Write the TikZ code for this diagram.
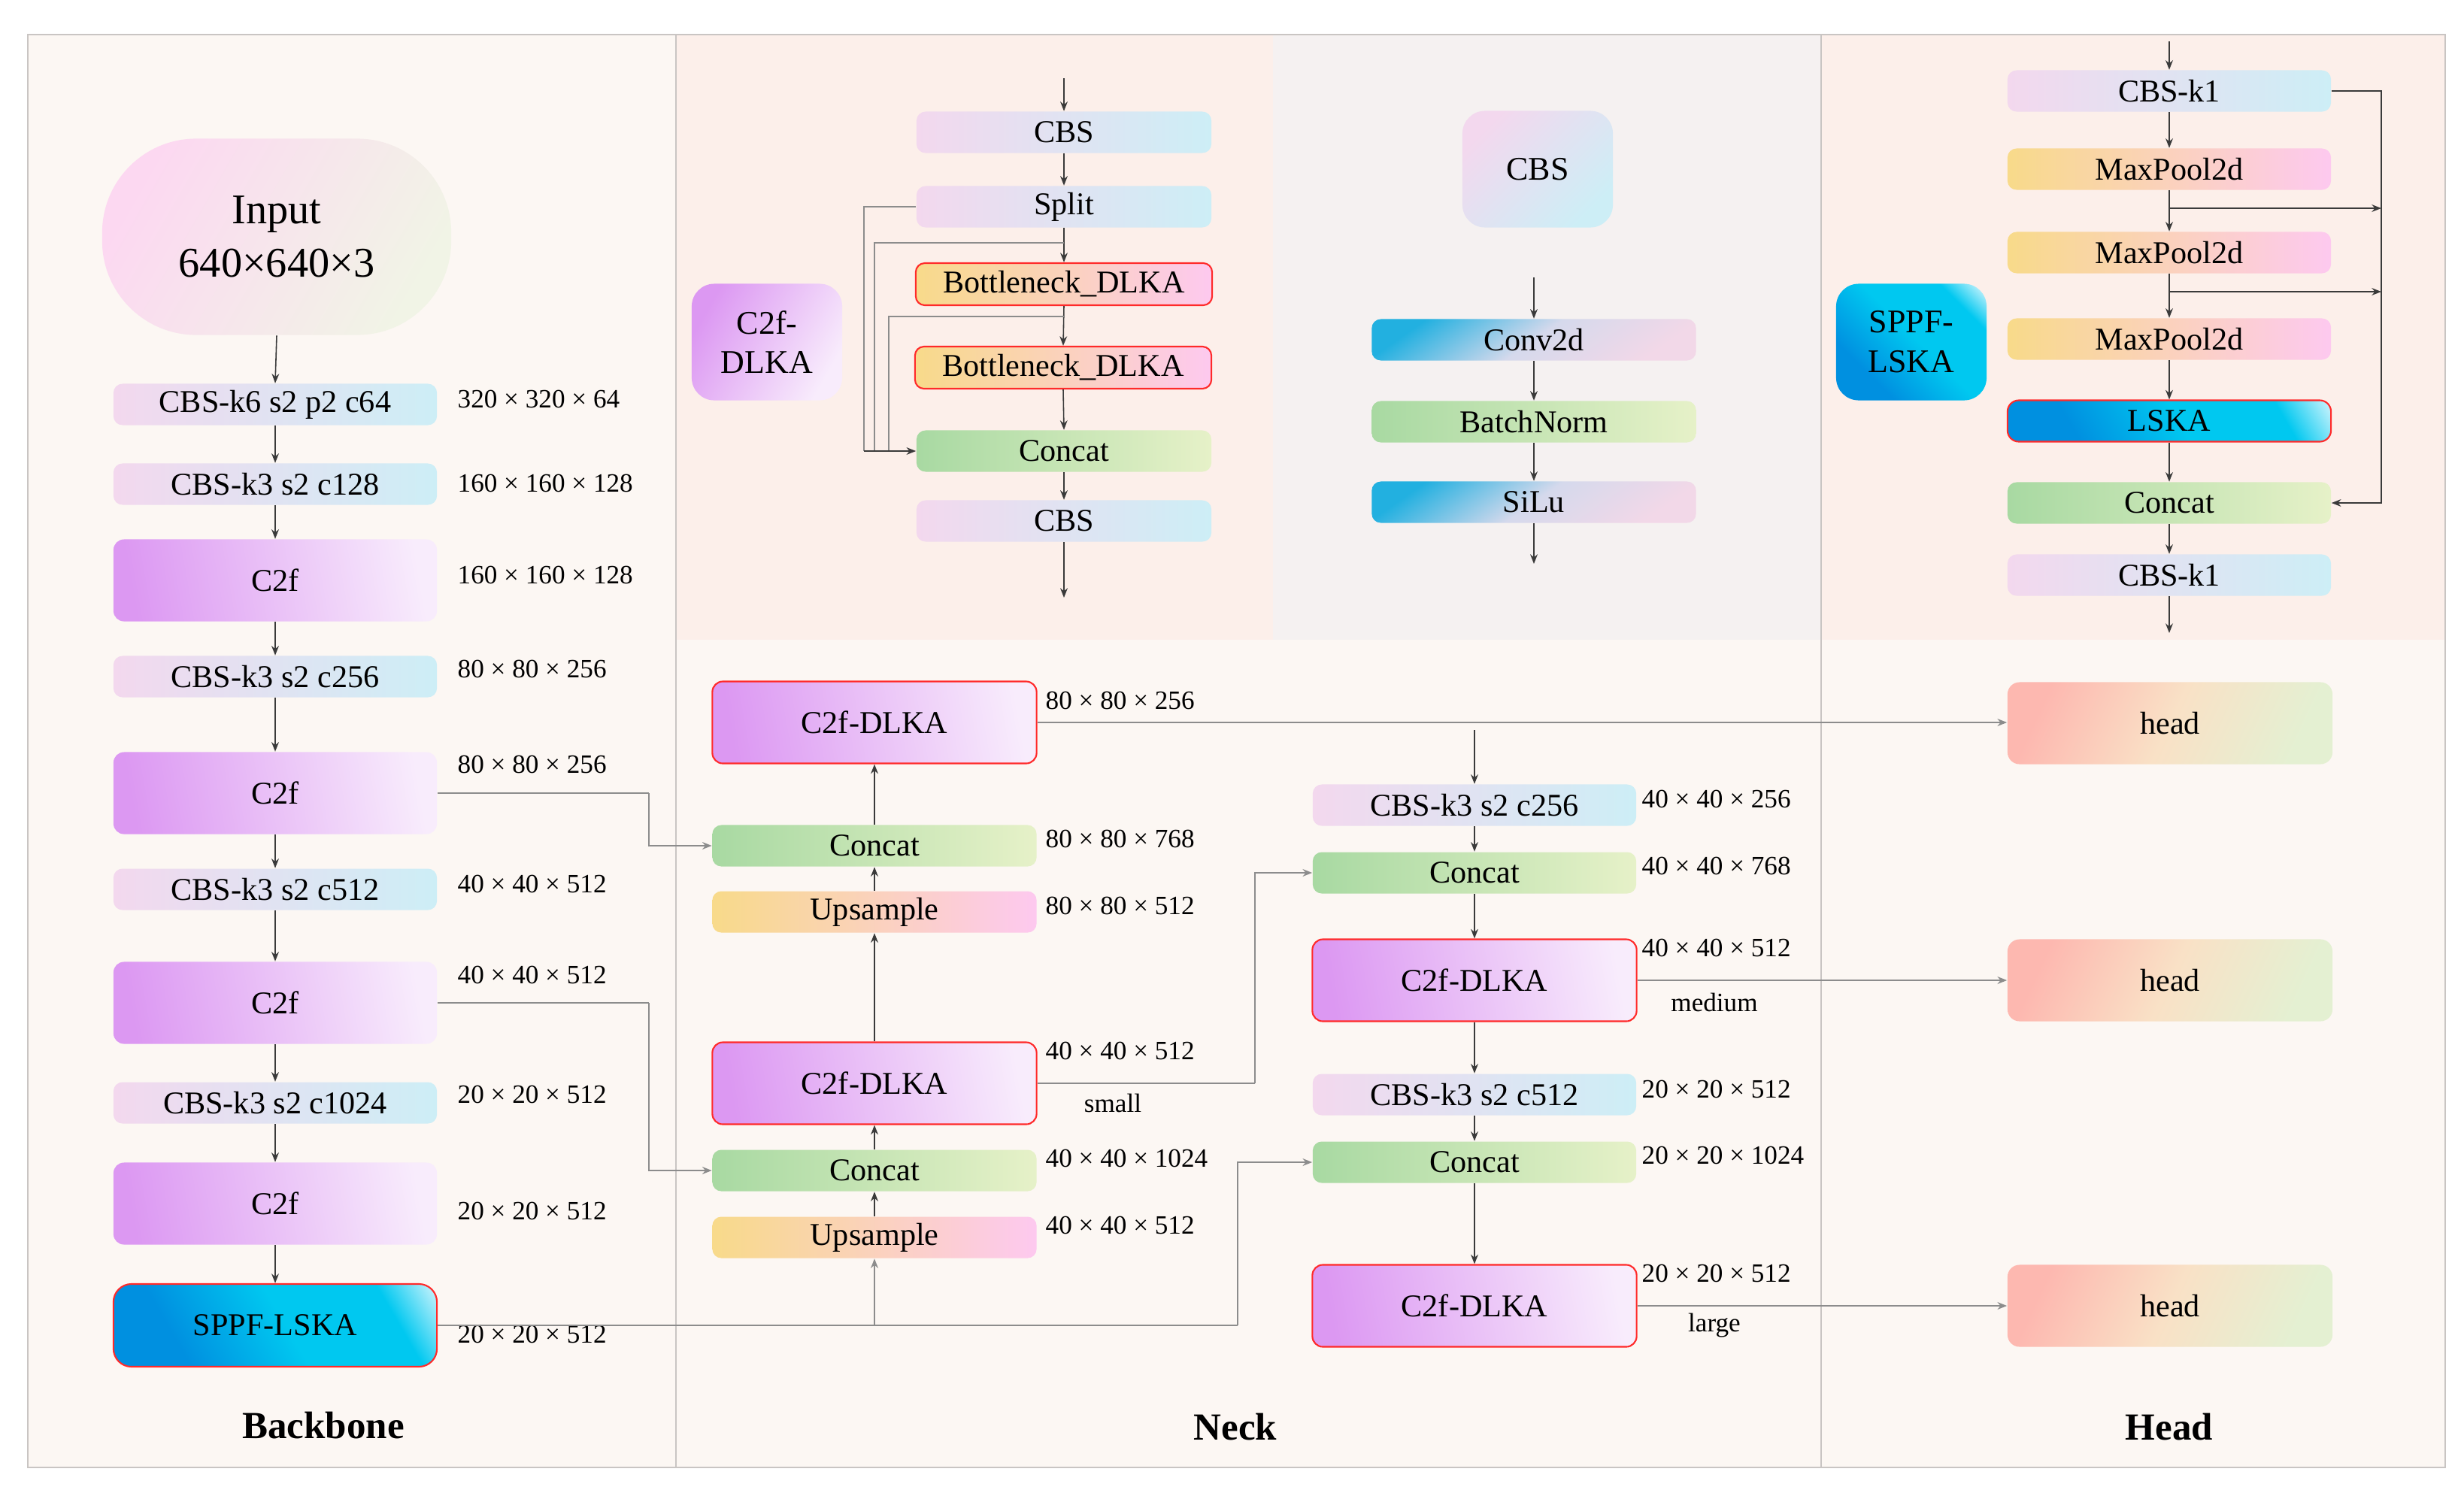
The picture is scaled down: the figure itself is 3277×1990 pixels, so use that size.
\documentclass[tikz,border=0pt]{standalone}
\usepackage{fontspec}
\setmainfont{Liberation Serif}
\usetikzlibrary{arrows.meta,calc}
\definecolor{bgA}{HTML}{FCF7F3}
\definecolor{bgB}{HTML}{FCEFEA}
\definecolor{bgC}{HTML}{F5F1F1}
\definecolor{framec}{HTML}{C9C5C3}
\definecolor{conngray}{HTML}{8C8C8C}
\definecolor{arrgray}{HTML}{3A3A3A}
\definecolor{redb}{HTML}{FF2A2A}
\definecolor{cbsL}{HTML}{F3D8EE}
\definecolor{cbsR}{HTML}{CDEEF6}
\definecolor{c2fL}{HTML}{DC98F2}
\definecolor{c2fR}{HTML}{F8ECFC}
\definecolor{catL}{HTML}{A8D9A2}
\definecolor{catR}{HTML}{E6F1C8}
\definecolor{upL}{HTML}{F8DA8A}
\definecolor{upR}{HTML}{FDC9EF}
\definecolor{headL}{HTML}{FDB8B0}
\definecolor{headM}{HTML}{F9E1C6}
\definecolor{headR}{HTML}{E4F0D2}
\definecolor{inL}{HTML}{FCD8F1}
\definecolor{inR}{HTML}{F1F4E6}
\definecolor{blueD}{HTML}{0090E0}
\definecolor{blueM}{HTML}{00C8F0}
\definecolor{blueW}{HTML}{F2FCFF}
\definecolor{convL}{HTML}{22B0E0}
\definecolor{convM}{HTML}{D5D9EC}
\definecolor{convR}{HTML}{F2D8E8}
\pgfdeclarehorizontalshading{lskashade}{100bp}{color(0bp)=(blueD); color(30bp)=(blueD); color(52bp)=(blueM); color(73bp)=(blueM); color(86bp)=(blueW); color(100bp)=(blueW)}
\begin{document}
\begin{tikzpicture}[x=0.01cm,y=-0.01cm,
  box/.style={rounded corners=0.12cm, minimum width=4.3cm, minimum height=0.55cm, inner sep=0pt, font=\fontsize{12}{14}\selectfont, text=black},
  cbsbox/.style={box, left color=cbsL, right color=cbsR},
  catbox/.style={box, left color=catL, right color=catR},
  upbox/.style={box, left color=upL, right color=upR},
  c2fbox/.style={box, minimum height=1.09cm, rounded corners=0.14cm, left color=c2fL, right color=c2fR, shading angle=100},
  dlkabox/.style={c2fbox, minimum width=4.31cm, draw=redb, line width=0.6pt},
  sppfbox/.style={box, minimum height=1.1cm, rounded corners=0.24cm, shading=lskashade, shading angle=30, draw=redb, line width=0.6pt},
  lskabox/.style={box, rounded corners=0.15cm, shading=lskashade, shading angle=30, draw=redb, line width=0.6pt},
  bottlebox/.style={box, minimum width=3.94cm, minimum height=0.56cm, left color=upL, right color=upR, draw=redb, line width=0.6pt},
  headbox/.style={box, minimum width=4.32cm, minimum height=1.09cm, rounded corners=0.16cm, left color=headL, right color=headR, middle color=headM, shading angle=65},
  convbox/.style={box, minimum width=4.31cm, left color=convL, right color=convR, middle color=convM, shading angle=35},
  inputbox/.style={minimum width=4.64cm, minimum height=2.61cm, rounded corners=1.25cm, inner sep=0pt, align=center, font=\fontsize{16}{20}\selectfont, left color=inL, right color=inR, shading angle=60},
  labelbox/.style={minimum width=2.0cm, minimum height=1.55cm, rounded corners=0.3cm, inner sep=0pt, align=center, font=\fontsize{12.5}{15}\selectfont},
  dim/.style={anchor=west, inner sep=0pt, font=\fontsize{10}{12}\selectfont},
  sizeword/.style={inner sep=0pt, font=\fontsize{10}{12}\selectfont},
  title/.style={inner sep=0pt, font=\fontsize{14.5}{17}\selectfont\bfseries},
  arr/.style={draw=arrgray, line width=0.45pt, -{Stealth[length=3.6pt,width=2.8pt]}},
  conn/.style={draw=conngray, line width=0.6pt},
  connarr/.style={conn, -{Stealth[length=3.6pt,width=2.8pt]}}
]
\useasboundingbox (0,0) rectangle (3277,1990);
\fill[white] (0,0) rectangle (3277,1990);
% panels
\fill[bgA] (37,46) rectangle (3252,1952);
\fill[bgB] (899,46) rectangle (1693,851);
\fill[bgC] (1693,46) rectangle (2422,851);
\fill[bgB] (2422,46) rectangle (3252,851);
\draw[framec, line width=0.6pt] (37,46) rectangle (3252,1952);
\draw[framec, line width=0.6pt] (899,46) -- (899,1952);
\draw[framec, line width=0.6pt] (2422,46) -- (2422,1952);

% ---------------- Backbone
\node[inputbox] (in) at (368,315) {Input\\640×640×3};
\node[cbsbox] (b1) at (366,538) {CBS-k6 s2 p2 c64};
\node[cbsbox] (b2) at (366,644) {CBS-k3 s2 c128};
\node[c2fbox] (b3) at (366,772) {C2f};
\node[cbsbox] (b4) at (366,900) {CBS-k3 s2 c256};
\node[c2fbox] (b5) at (366,1055) {C2f};
\node[cbsbox] (b6) at (366,1183) {CBS-k3 s2 c512};
\node[c2fbox] (b7) at (366,1334) {C2f};
\node[cbsbox] (b8) at (366,1467) {CBS-k3 s2 c1024};
\node[c2fbox] (b9) at (366,1601) {C2f};
\node[sppfbox] (b10) at (366,1763) {SPPF-LSKA};
\foreach \a/\b in {in/b1,b1/b2,b2/b3,b3/b4,b4/b5,b5/b6,b6/b7,b7/b8,b8/b9,b9/b10}
  \draw[arr] (\a.south) -- (\b.north);

\node[dim] (bd1) at (608,531) {320 × 320 × 64};
\node[dim] (bd2) at (608,643) {160 × 160 × 128};
\node[dim] (bd3) at (608,765) {160 × 160 × 128};
\node[dim] (bd4) at (608,890) {80 × 80 × 256};
\node[dim] (bd5) at (608,1017) {80 × 80 × 256};
\node[dim] (bd6) at (608,1176) {40 × 40 × 512};
\node[dim] (bd7) at (608,1297) {40 × 40 × 512};
\node[dim] (bd8) at (608,1456) {20 × 20 × 512};
\node[dim] (bd9) at (608,1611) {20 × 20 × 512};
\node[dim] (bd10) at (608,1775) {20 × 20 × 512};
\node[title] (tb) at (430,1896) {Backbone};

% ---------------- Neck left column
\node[dlkabox] (n1) at (1163,961) {C2f-DLKA};
\node[catbox, minimum width=4.31cm] (n2) at (1163,1125) {Concat};
\node[upbox, minimum width=4.31cm] (n3) at (1163,1213) {Upsample};
\node[dlkabox] (n4) at (1163,1441) {C2f-DLKA};
\node[catbox, minimum width=4.31cm] (n5) at (1163,1557) {Concat};
\node[upbox, minimum width=4.31cm] (n6) at (1163,1646) {Upsample};
\foreach \a/\b in {n6/n5,n5/n4,n4/n3,n3/n2,n2/n1}
  \draw[arr] (\a.north) -- (\b.south);

\node[dim] (nd1) at (1390,932) {80 × 80 × 256};
\node[dim] (nd2) at (1390,1116) {80 × 80 × 768};
\node[dim] (nd3) at (1390,1205) {80 × 80 × 512};
\node[dim] (nd4) at (1390,1398) {40 × 40 × 512};
\node[sizeword] (nsmall) at (1480,1467) {small};
\node[dim] (nd5) at (1390,1541) {40 × 40 × 1024};
\node[dim] (nd6) at (1390,1630) {40 × 40 × 512};

% ---------------- Neck right column
\node[cbsbox] (r1) at (1961,1071) {CBS-k3 s2 c256};
\node[catbox] (r2) at (1961,1161) {Concat};
\node[dlkabox] (r3) at (1961,1304) {C2f-DLKA};
\node[cbsbox] (r4) at (1961,1456) {CBS-k3 s2 c512};
\node[catbox] (r5) at (1961,1546) {Concat};
\node[dlkabox] (r6) at (1961,1737) {C2f-DLKA};
\foreach \a/\b in {r1/r2,r2/r3,r3/r4,r4/r5,r5/r6}
  \draw[arr] (\a.south) -- (\b.north);

\node[dim] (rd1) at (2183,1063) {40 × 40 × 256};
\node[dim] (rd2) at (2183,1152) {40 × 40 × 768};
\node[dim] (rd3) at (2183,1261) {40 × 40 × 512};
\node[sizeword] (rmed) at (2280,1333) {medium};
\node[dim] (rd4) at (2183,1449) {20 × 20 × 512};
\node[dim] (rd5) at (2183,1537) {20 × 20 × 1024};
\node[dim] (rd6) at (2183,1694) {20 × 20 × 512};
\node[sizeword] (rlarge) at (2280,1763) {large};
\node[title] (tn) at (1643,1898) {Neck};

% ---------------- Head
\node[headbox] (h1) at (2886,962) {head};
\node[headbox] (h2) at (2886,1304) {head};
\node[headbox] (h3) at (2886,1737) {head};
\node[title] (th) at (2885,1898) {Head};

% ---------------- connectors
\coordinate (j1) at (863,1055);
\coordinate (j2) at (863,1334);
\coordinate (j3) at (1646,1763);
\coordinate (j4) at (1669,1441);
\draw[conn] (b5.east) -- (j1);
\draw[connarr] (j1) |- (n2.west);
\draw[conn] (b7.east) -- (j2);
\draw[connarr] (j2) |- (n5.west);
\draw[conn] (b10.east) -- (j3);
\draw[connarr] (j3) |- (r5.west);
\draw[connarr] (n6.south |- b10.east) -- (n6.south);
\draw[conn] (n4.east) -- (j4);
\draw[connarr] (j4) |- (r2.west);
\draw[connarr] (n1.east) -- (n1.east -| h1.west);
\draw[arr] (r1.north |- n1.east) ++(0,10) -- (r1.north);
\draw[connarr] (r3.east) -- (h2.west);
\draw[connarr] (r6.east) -- (h3.west);

% ---------------- C2f-DLKA detail
\node[labelbox, left color=c2fL, right color=c2fR, shading angle=60] (dl) at (1020,455) {C2f-\\DLKA};
\coordinate (d0) at (1415,104);
\node[cbsbox, minimum width=3.92cm] (d1) at (1415,176) {CBS};
\node[cbsbox, minimum width=3.92cm] (d2) at (1415,275) {Split};
\node[bottlebox] (d3) at (1415,378) {Bottleneck\_DLKA};
\node[bottlebox] (d4) at (1414,489) {Bottleneck\_DLKA};
\node[catbox, minimum width=3.92cm] (d5) at (1415,600) {Concat};
\node[cbsbox, minimum width=3.92cm] (d6) at (1415,693) {CBS};
\coordinate (d7) at (1415,795);
\draw[arr] (d0) -- (d1.north);
\draw[arr] (d1.south) -- (d2.north);
\draw[arr] (d2.south) -- (d3.north);
\draw[arr] (d3.south) -- (d4.north);
\draw[arr] (d4.south) -- (d5.north);
\draw[arr] (d5.south) -- (d6.north);
\draw[arr] (d6.south) -- (d7);
\coordinate (s1) at (1149,600);
\coordinate (s2a) at (1415,323);
\coordinate (s2b) at (1163,600);
\coordinate (s3a) at (1415,421);
\coordinate (s3b) at (1182,600);
\draw[conn] (d2.west) -| (s1);
\draw[conn] (s2a) -| (s2b);
\draw[conn] (s3a) -| (s3b);
\draw[arr] (s1) -- (d5.west);

% ---------------- CBS detail
\node[labelbox, left color=cbsL, right color=cbsR, shading angle=45] (c0) at (2045,225) {CBS};
\coordinate (c1) at (2040,369);
\node[convbox] (c2) at (2040,452) {Conv2d};
\node[catbox, minimum width=4.31cm] (c3) at (2040,561) {BatchNorm};
\node[convbox] (c4) at (2040,668) {SiLu};
\coordinate (c5) at (2040,750);
\draw[arr] (c1) -- (c2.north);
\draw[arr] (c2.south) -- (c3.north);
\draw[arr] (c3.south) -- (c4.north);
\draw[arr] (c4.south) -- (c5);

% ---------------- SPPF-LSKA detail
\node[labelbox, shading=lskashade, shading angle=45] (p0) at (2542,455) {SPPF-\\LSKA};
\coordinate (pin) at (2885,55);
\node[cbsbox] (p1) at (2885,121) {CBS-k1};
\node[upbox] (p2) at (2885,225) {MaxPool2d};
\node[upbox] (p3) at (2885,336) {MaxPool2d};
\node[upbox] (p4) at (2885,451) {MaxPool2d};
\node[lskabox] (p5) at (2885,560) {LSKA};
\node[catbox] (p6) at (2885,669) {Concat};
\node[cbsbox] (p7) at (2885,765) {CBS-k1};
\coordinate (pout) at (2885,842);
\draw[arr] (pin) -- (p1.north);
\draw[arr] (p1.south) -- (p2.north);
\draw[arr] (p2.south) -- (p3.north);
\draw[arr] (p3.south) -- (p4.north);
\draw[arr] (p4.south) -- (p5.north);
\draw[arr] (p5.south) -- (p6.north);
\draw[arr] (p6.south) -- (p7.north);
\draw[arr] (p7.south) -- (pout);
\coordinate (q1) at (2885,277);
\coordinate (q1r) at (3167,277);
\coordinate (q2) at (2885,388);
\coordinate (q2r) at (3167,388);
\coordinate (pbus) at (3167,669);
\draw[arr] (q1) -- (q1r);
\draw[arr] (q2) -- (q2r);
\draw[arr] (p1.east) -| (pbus) -- (p6.east);
\end{tikzpicture}
\end{document}
